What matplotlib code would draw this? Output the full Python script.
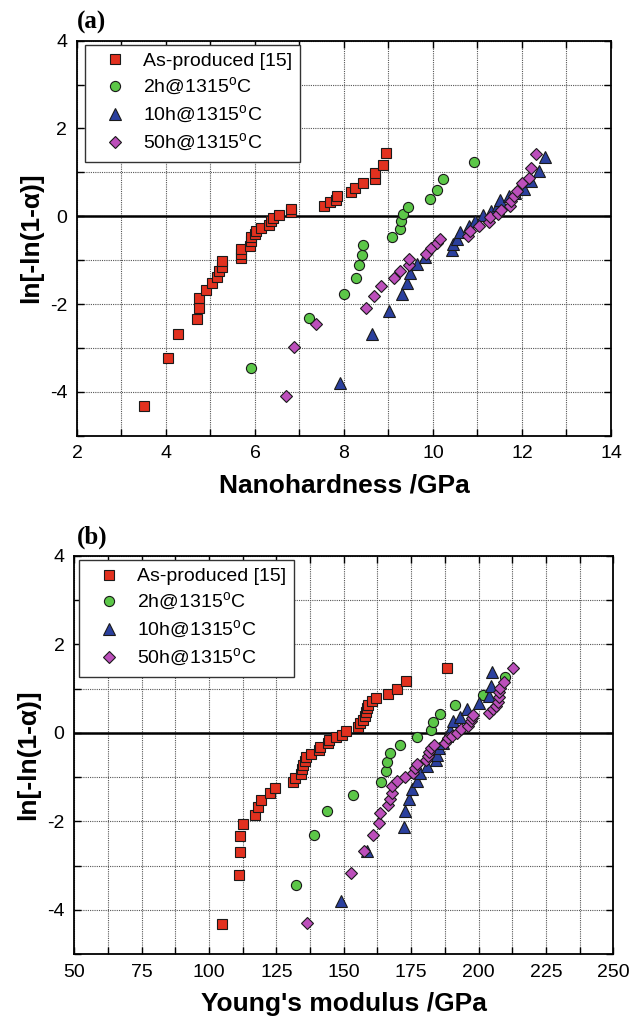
import matplotlib
matplotlib.use("Agg")
import matplotlib.pyplot as plt
from matplotlib.ticker import MultipleLocator

plt.rcParams['font.family'] = ['Liberation Sans', 'DejaVu Sans']
plt.rcParams['mathtext.fontset'] = 'custom'
plt.rcParams['mathtext.rm'] = 'Liberation Sans'
plt.rcParams['mathtext.bf'] = 'Liberation Sans:bold'
plt.rcParams['axes.unicode_minus'] = False

# legend labels
labels = ['As-produced [15]', '2h@1315$^\\mathrm{o}$C',
          '10h@1315$^\\mathrm{o}$C', '50h@1315$^\\mathrm{o}$C']

# (a) nanohardness / GPa  vs  ln[-ln(1-a)]
h_asprod_x = [3.51, 4.05, 4.28, 4.70, 4.75, 4.75, 4.91, 5.04, 5.15, 5.20, 5.25, 5.27,
              5.68, 5.68, 5.69, 5.89, 5.90, 5.90, 5.99, 6.03, 6.13, 6.31, 6.35, 6.40,
              6.55, 6.80, 6.82, 7.54, 7.69, 7.83, 7.85, 8.16, 8.24, 8.42, 8.69, 8.70,
              8.88, 8.94]
h_asprod_y = [-4.33, -3.23, -2.69, -2.34, -2.09, -1.86, -1.68, -1.53, -1.39, -1.25, -1.15, -1.03,
              -0.95, -0.86, -0.74, -0.67, -0.57, -0.48, -0.40, -0.33, -0.26, -0.19, -0.11, -0.05,
              0.02, 0.09, 0.17, 0.24, 0.32, 0.37, 0.47, 0.55, 0.65, 0.75, 0.85, 0.99,
              1.17, 1.45]
h_2h_x = [5.92, 7.21, 7.99, 8.28, 8.33, 8.41, 8.43, 9.09, 9.25, 9.28, 9.32, 9.43,
          9.93, 10.10, 10.23, 10.92]
h_2h_y = [-3.46, -2.31, -1.78, -1.41, -1.12, -0.88, -0.66, -0.47, -0.30, -0.11, 0.05, 0.22,
          0.40, 0.60, 0.84, 1.23]
h_10h_x = [7.90, 8.64, 9.01, 9.30, 9.42, 9.49, 9.64, 9.83, 10.43, 10.45, 10.54, 10.61,
           10.80, 10.95, 11.12, 11.30, 11.45, 11.51, 11.70, 11.85, 12.04, 12.20, 12.39, 12.52]
h_10h_y = [-3.80, -2.68, -2.15, -1.78, -1.52, -1.30, -1.08, -0.92, -0.77, -0.64, -0.52, -0.36,
           -0.22, -0.10, 0.02, 0.12, 0.25, 0.38, 0.45, 0.52, 0.62, 0.80, 1.03, 1.36]
h_50h_x = [6.69, 6.87, 7.37, 8.49, 8.68, 8.83, 9.13, 9.25, 9.45, 9.47, 9.85, 9.96,
           10.10, 10.16, 10.78, 10.84, 11.03, 11.27, 11.29, 11.47, 11.53, 11.72, 11.75, 11.83,
           11.89, 12.00, 12.15, 12.21, 12.31]
h_50h_y = [-4.09, -2.97, -2.45, -2.09, -1.82, -1.59, -1.41, -1.25, -1.10, -0.97, -0.86, -0.73,
           -0.62, -0.52, -0.44, -0.33, -0.23, -0.14, -0.02, 0.05, 0.15, 0.24, 0.34, 0.45,
           0.57, 0.75, 0.87, 1.10, 1.41]

# (b) Young's modulus / GPa  vs  ln[-ln(1-a)]
e_asprod_x = [104.9, 111.2, 111.6, 111.6, 112.7, 117.2, 118.3, 119.4, 122.6, 124.6, 131.2, 132.0,
              134.0, 134.5, 135.0, 135.6, 136.0, 137.8, 140.7, 141.2, 144.3, 144.4, 147.1, 149.2,
              150.8, 155.4, 156.0, 157.2, 157.9, 158.2, 158.7, 159.1, 160.4, 162.0, 166.5, 169.6,
              173.1, 188.4]
e_asprod_y = [-4.32, -3.21, -2.69, -2.33, -2.07, -1.86, -1.68, -1.52, -1.37, -1.24, -1.12, -1.02,
              -0.93, -0.82, -0.72, -0.63, -0.54, -0.48, -0.38, -0.31, -0.23, -0.17, -0.10, -0.04,
              0.04, 0.13, 0.22, 0.30, 0.38, 0.47, 0.56, 0.64, 0.72, 0.80, 0.87, 0.99,
              1.18, 1.47]
e_2h_x = [132.3, 139.1, 143.7, 153.3, 163.7, 165.5, 166.1, 167.1, 170.9, 177.3, 182.4, 183.0,
          185.7, 191.4, 201.8, 209.8]
e_2h_y = [-3.45, -2.31, -1.76, -1.40, -1.10, -0.87, -0.65, -0.45, -0.27, -0.10, 0.07, 0.25,
          0.42, 0.63, 0.86, 1.26]
e_10h_x = [148.9, 158.5, 172.3, 172.7, 174.2, 175.2, 177.3, 178.3, 180.8, 184.2, 184.7, 185.4,
           186.9, 188.2, 189.4, 190.6, 193.1, 195.6, 200.3, 204.0, 204.5, 205.1]
e_10h_y = [-3.80, -2.67, -2.12, -1.76, -1.49, -1.27, -1.09, -0.91, -0.75, -0.61, -0.50, -0.35,
           -0.23, -0.08, 0.07, 0.26, 0.37, 0.54, 0.67, 0.84, 1.05, 1.37]
e_50h_x = [136.3, 152.7, 157.5, 160.7, 163.2, 163.4, 166.5, 167.1, 168.0, 168.0, 169.6, 172.7,
           175.6, 176.4, 177.3, 180.5, 181.4, 181.7, 182.4, 183.5, 187.6, 188.8, 190.0, 191.9,
           193.4, 196.2, 197.1, 197.5, 197.8, 204.0, 205.5, 206.5, 207.1, 207.6, 207.7, 208.0,
           209.4, 212.9]
e_50h_y = [-4.29, -3.17, -2.66, -2.31, -2.04, -1.82, -1.64, -1.49, -1.35, -1.20, -1.09, -0.99,
           -0.90, -0.80, -0.70, -0.61, -0.52, -0.43, -0.35, -0.27, -0.22, -0.12, -0.08, -0.01,
           0.08, 0.16, 0.26, 0.33, 0.41, 0.46, 0.54, 0.61, 0.71, 0.82, 0.93, 1.02,
           1.16, 1.46]

colors = ['#e2311f', '#5cc748', '#2b409e', '#bc4fbb']
markers = ['s', 'o', '^', 'D']
msizes = [6.8, 7.3, 9.0, 6.0]


def draw_panel(ax, series, xlim, xmaj, xmin, xlabel, leg_x):
    for (x, y), c, m, ms, lab in zip(series, colors, markers, msizes, labels):
        ax.plot(x, y, linestyle='none', marker=m, markersize=ms, markerfacecolor=c,
                markeredgecolor='#1a1a1a', markeredgewidth=0.8, label=lab, zorder=3)
    ax.axhline(0, color='black', lw=1.8, zorder=2)
    ax.set_xlim(*xlim)
    ax.set_ylim(-5, 4)
    ax.xaxis.set_major_locator(MultipleLocator(xmaj))
    ax.xaxis.set_minor_locator(MultipleLocator(xmin))
    ax.yaxis.set_major_locator(MultipleLocator(2))
    ax.yaxis.set_minor_locator(MultipleLocator(1))
    ax.grid(True, which='both', color='#555555', linestyle=(0, (1, 1)), lw=0.8, zorder=1)
    ax.tick_params(which='both', direction='in', top=True, right=True, length=5,
                   width=1, labelsize=14, pad=7)
    for s in ax.spines.values():
        s.set_linewidth(1.3)
    ax.set_xlabel(xlabel, fontsize=19, fontweight='bold', labelpad=8)
    ax.set_ylabel('ln[-ln(1-α)]', fontsize=19, fontweight='bold', labelpad=5)
    leg = ax.legend(loc='upper left', bbox_to_anchor=(leg_x, 0.99), borderaxespad=0,
                    fontsize=14, fancybox=False, edgecolor='#333333', framealpha=1,
                    borderpad=0.4, handlelength=2.3, handletextpad=0.3, labelspacing=0.3,
                    numpoints=1)
    leg.get_frame().set_linewidth(1.0)
    leg.set_zorder(5)


fig = plt.figure(figsize=(6.3, 10.17), dpi=100)
ax1 = fig.add_axes([0.1222, 0.5716, 0.8476, 0.3884])
ax2 = fig.add_axes([0.1179, 0.0619, 0.8556, 0.3914])

draw_panel(ax1, [(h_asprod_x, h_asprod_y), (h_2h_x, h_2h_y), (h_10h_x, h_10h_y), (h_50h_x, h_50h_y)],
           (2, 14), 2, 1, 'Nanohardness /GPa', 0.015)
draw_panel(ax2, [(e_asprod_x, e_asprod_y), (e_2h_x, e_2h_y), (e_10h_x, e_10h_y), (e_50h_x, e_50h_y)],
           (50, 250), 25, 12.5, "Young's modulus /GPa", 0.009)

fig.text(0.1225, 0.978, '(a)', family='Liberation Serif', fontweight='bold', fontsize=18,
         ha='left', va='center')
fig.text(0.1225, 0.472, '(b)', family='Liberation Serif', fontweight='bold', fontsize=18,
         ha='left', va='center')

fig.savefig('out.png', dpi=100)
